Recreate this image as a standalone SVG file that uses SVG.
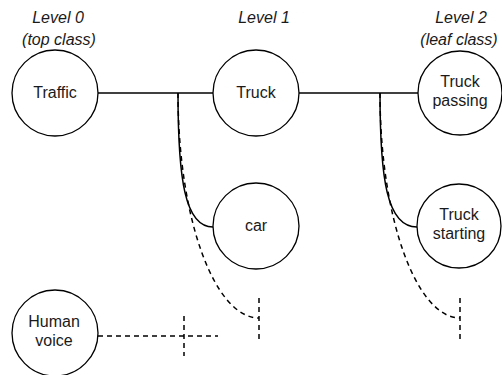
<svg xmlns="http://www.w3.org/2000/svg" width="502" height="375" viewBox="0 0 502 375">
<style>
.node{fill:#fff;stroke:#000;stroke-width:1.3}
.t{font-family:"Liberation Sans",Arial,sans-serif;font-size:16px;fill:#1a1a1a;text-anchor:middle}
.lv{font-family:"Liberation Sans",Arial,sans-serif;font-size:16px;font-style:italic;fill:#1a1a1a;text-anchor:middle}
.s{fill:none;stroke:#000;stroke-width:1.5}
.d{fill:none;stroke:#000;stroke-width:1.5;stroke-dasharray:5,4}
</style>
<rect width="502" height="375" fill="#fff"/>
<g id="labels">
<text class="lv" x="58" y="23">Level 0</text>
<text class="lv" x="59" y="45">(top class)</text>
<text class="lv" x="264" y="23">Level 1</text>
<text class="lv" x="461" y="23">Level 2</text>
<text class="lv" x="459" y="45">(leaf class)</text>
</g>
<g id="connectors">
<line class="s" x1="98" y1="93" x2="213" y2="93"/>
<line class="s" x1="299" y1="93" x2="418" y2="93"/>
<path class="s" d="M178,93 C178,180 185,227 213,227"/>
<path class="d" d="M178,93 C178,220 215,318 259,318"/>
<line class="d" x1="259" y1="298" x2="259" y2="340"/>
<path class="s" d="M380,93 C380,180 387,227 417,227"/>
<path class="d" d="M380,93 C380,220 417,318 460,318"/>
<line class="d" x1="460" y1="298" x2="460" y2="340"/>
<line class="d" x1="98" y1="336" x2="218" y2="336"/>
<line class="d" x1="184" y1="316" x2="184" y2="356"/>
</g>
<g id="traffic">
<circle class="node" cx="55" cy="93" r="43"/>
<text class="t" x="55" y="98">Traffic</text>
</g>
<g id="truck">
<circle class="node" cx="256" cy="93" r="43"/>
<text class="t" x="256" y="98">Truck</text>
</g>
<g id="truck-passing">
<circle class="node" cx="460" cy="93" r="42"/>
<text class="t" x="460" y="87">Truck</text>
<text class="t" x="460" y="106">passing</text>
</g>
<g id="car">
<circle class="node" cx="256" cy="226" r="43"/>
<text class="t" x="256" y="231">car</text>
</g>
<g id="truck-starting">
<circle class="node" cx="459" cy="226" r="42"/>
<text class="t" x="459" y="220">Truck</text>
<text class="t" x="459" y="239">starting</text>
</g>
<g id="human-voice">
<circle class="node" cx="55" cy="333" r="43"/>
<text class="t" x="54" y="327">Human</text>
<text class="t" x="54" y="346">voice</text>
</g>
</svg>
